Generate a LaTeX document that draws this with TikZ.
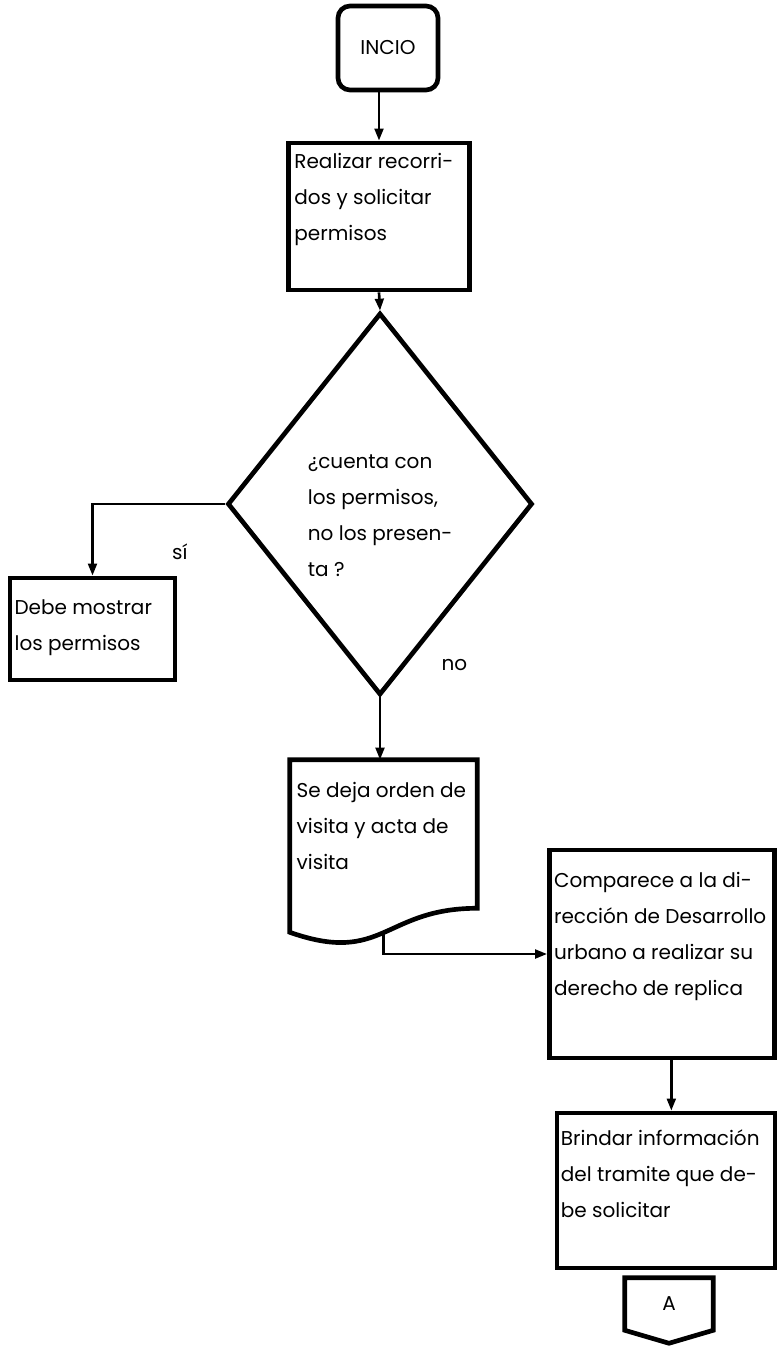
\documentclass[tikz,border=0pt]{standalone}
\usepackage{fontspec}
\setmainfont{Poppins}
\usepackage{tikz}
\usetikzlibrary{positioning,shapes.geometric,arrows.meta}

\tikzset{
  outline/.style={line width=3.5pt},
  box/.style={draw, outline, rectangle, inner sep=0pt},
  startbox/.style={box, rounded corners=9pt},
  decision/.style={draw, outline, diamond, inner sep=0pt},
  txt/.style={inner sep=0pt, align=left, font=\fontsize{15}{27}\selectfont},
  arr/.style={line width=2pt, -{Triangle[length=9pt,width=6.5pt]}},
}

\begin{document}
\begin{tikzpicture}[x=0.75pt, y=-0.75pt]
  \useasboundingbox (0,0) rectangle (777,1346);

  % main column
  \node[startbox, txt, minimum width=75pt, minimum height=63pt] (inicio) at (388,48) {INCIO};
  \node[box, minimum width=135.75pt, minimum height=110.25pt] (recorrido) at (379,216.5) {};
  \node[txt, below right=9.4pt and 6pt of recorrido.north west] (recorridotxt) {Realizar recorri-\\dos y solicitar\\permisos};

  \node[decision, minimum width=228.75pt, minimum height=286.5pt] (permisos) at (380,504) {};
  \node[txt, anchor=north west] (permisostxt) at ([shift={(82.5,-49.5)}]permisos.west) {¿cuenta con\\los permisos,\\no los presen-\\ta ?};

  % si branch
  \node[box, minimum width=123.75pt, minimum height=76.5pt] (mostrar) at (92.5,629) {};
  \node[txt, below right=17.6pt and 5pt of mostrar.north west] (mostrartxt) {Debe mostrar\\los permisos};
  \node[txt, below left=30pt and 28pt of permisos.west] (si) {sí};
  \node[txt, above right=20pt and 46pt of permisos.south] (no) {no};

  % document
  \node[minimum width=140.25pt, minimum height=111pt, inner sep=0pt] (orden) at (383.5,834) {};
  \draw[outline] ([yshift=-18pt]orden.south west) -- (orden.north west) -- (orden.north east) -- (orden.south east)
    .. controls +(-93.5,0) and +(93.5,33) .. ([yshift=-18pt]orden.south west) -- cycle;
  \node[txt, below right=16.9pt and 5pt of orden.north west] (ordentxt) {Se deja orden de\\visita y acta de\\visita};
  \coordinate (ordenout) at ([yshift=-18pt]orden.south);

  \node[box, minimum width=168.75pt, minimum height=156pt] (comparece) at (662,954) {};
  \node[txt, below right=18.4pt and 5pt of comparece.north west] (comparecetxt) {Comparece a la di-\\rección de Desarrollo\\urbano a realizar su\\derecho de replica};

  \node[box, minimum width=163.5pt, minimum height=116.25pt] (brindar) at (666,1190.5) {};
  \node[txt, below right=13.9pt and 4.5pt of brindar.north west] (brindartxt) {Brindar información\\del tramite que de-\\be solicitar};

  % off-page connector
  \node[txt, minimum width=66pt, minimum height=39pt] (conA) at (669,1304) {A};
  \draw[outline] (conA.south west) -- (conA.north west) -- (conA.north east) -- (conA.south east)
    -- ([yshift=-9.75pt]conA.south) -- cycle;

  % arrows
  \draw[arr] (inicio.south -| recorrido.north) -- (recorrido.north);
  \draw[arr] (recorrido.south) -- (permisos.north);
  \draw[arr] (permisos.west) -| (mostrar.north);
  \draw[arr] (permisos.south) -- (permisos.south |- orden.north);
  \draw[arr] (ordenout) |- (comparece.west);
  \draw[arr] ([xshift=7pt]comparece.south) -- ([xshift=7pt]comparece.south |- brindar.north);
\end{tikzpicture}
\end{document}
